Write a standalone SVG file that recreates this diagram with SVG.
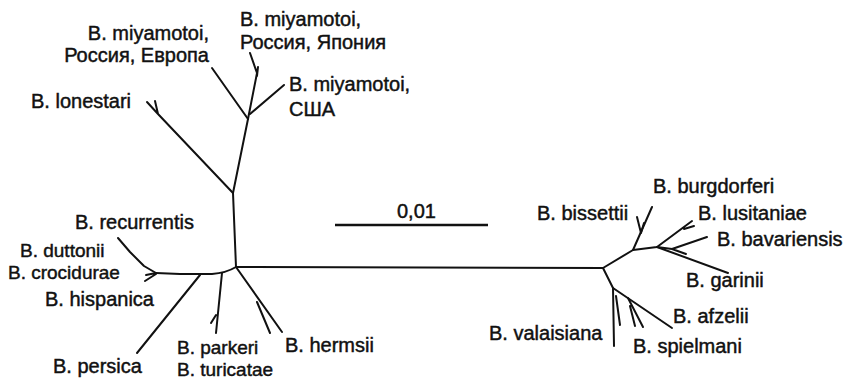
<svg xmlns="http://www.w3.org/2000/svg" width="848" height="379" viewBox="0 0 848 379">
<style>
.t{font-family:"Liberation Sans",Arial,Helvetica,sans-serif;font-size:20px;fill:#111;stroke:#111;stroke-width:0.45}
.s{font-size:19px}
.b{fill:none;stroke:#111;stroke-width:2;stroke-linecap:round;stroke-linejoin:round}
</style>
<rect width="848" height="379" fill="#fff"/>
<g id="connectors" class="b">
<path d="M236,267 L603,268"/>
<path d="M236,267 L233,193 L248,119"/>
<path d="M233,193 L158,114 M158,114 L147,102 M158,114 L155,101"/>
<path d="M248,119 L212,68"/>
<path d="M250,114 L284,85"/>
<path d="M248,119 L257,73 L250,53 M257,76 L258,67"/>
<path d="M236,267 Q226,273 212,274 L180,274 L156,273"/>
<path d="M156,273 L144,266 L130,252 L118,238"/>
<path d="M156,274 L145,281 M156,273 L146,275"/>
<path d="M222,273 L216,333 M216,315 L211,323"/>
<path d="M200,275 L137,353"/>
<path d="M236,267 L282,332 M257,302 L270,333"/>
<path d="M603,268 L633,250 L652,207"/>
<path d="M641,233 L637,217 M641,233 L644,223"/>
<path d="M633,250 L657,247 L692,221 M684,229 L694,226"/>
<path d="M657,247 L728,273"/>
<path d="M657,247 L672,249 L707,237 M672,249 L686,254"/>
<path d="M603,268 L613,288 L672,328"/>
<path d="M613,288 L614,346 M616,296 L620,325"/>
<path d="M628,298 L643,327 M630,306 L635,326"/>
</g>
<g id="scale">
<line x1="335" y1="225" x2="488" y2="225" stroke="#111" stroke-width="2.5"/>
<text class="t" x="397" y="218">0,01</text>
</g>
<g id="miyamotoi-europe"><text class="t" x="209" y="40" text-anchor="end">B. miyamotoi,</text><text class="t" x="209" y="62" text-anchor="end">Россия, Европа</text></g>
<g id="miyamotoi-japan"><text class="t" x="240" y="26">B. miyamotoi,</text><text class="t" x="240" y="49">Россия, Япония</text></g>
<g id="miyamotoi-usa"><text class="t" x="289" y="91">B. miyamotoi,</text><text class="t" x="289" y="116">США</text></g>
<g id="lonestari"><text class="t" x="31" y="108">B. lonestari</text></g>
<g id="recurrentis"><text class="t" x="75" y="229">B. recurrentis</text></g>
<g id="duttonii"><text class="t s" x="20" y="257">B. duttonii</text></g>
<g id="crocidurae"><text class="t s" x="8" y="279">B. crocidurae</text></g>
<g id="hispanica"><text class="t" x="45" y="306">B. hispanica</text></g>
<g id="persica"><text class="t" x="53" y="373">B. persica</text></g>
<g id="parkeri"><text class="t s" x="177" y="354">B. parkeri</text></g>
<g id="turicatae"><text class="t s" x="177" y="376">B. turicatae</text></g>
<g id="hermsii"><text class="t" x="285" y="352">B. hermsii</text></g>
<g id="bissettii"><text class="t" x="537" y="220">B. bissettii</text></g>
<g id="burgdorferi"><text class="t" x="653" y="193">B. burgdorferi</text></g>
<g id="lusitaniae"><text class="t" x="698" y="220">B. lusitaniae</text></g>
<g id="bavariensis"><text class="t" x="717" y="246">B. bavariensis</text></g>
<g id="garinii"><text class="t" x="686" y="287">B. garinii</text></g>
<g id="afzelii"><text class="t" x="673" y="323">B. afzelii</text></g>
<g id="valaisiana"><text class="t" x="489" y="340">B. valaisiana</text></g>
<g id="spielmani"><text class="t" x="633" y="353">B. spielmani</text></g>
</svg>
